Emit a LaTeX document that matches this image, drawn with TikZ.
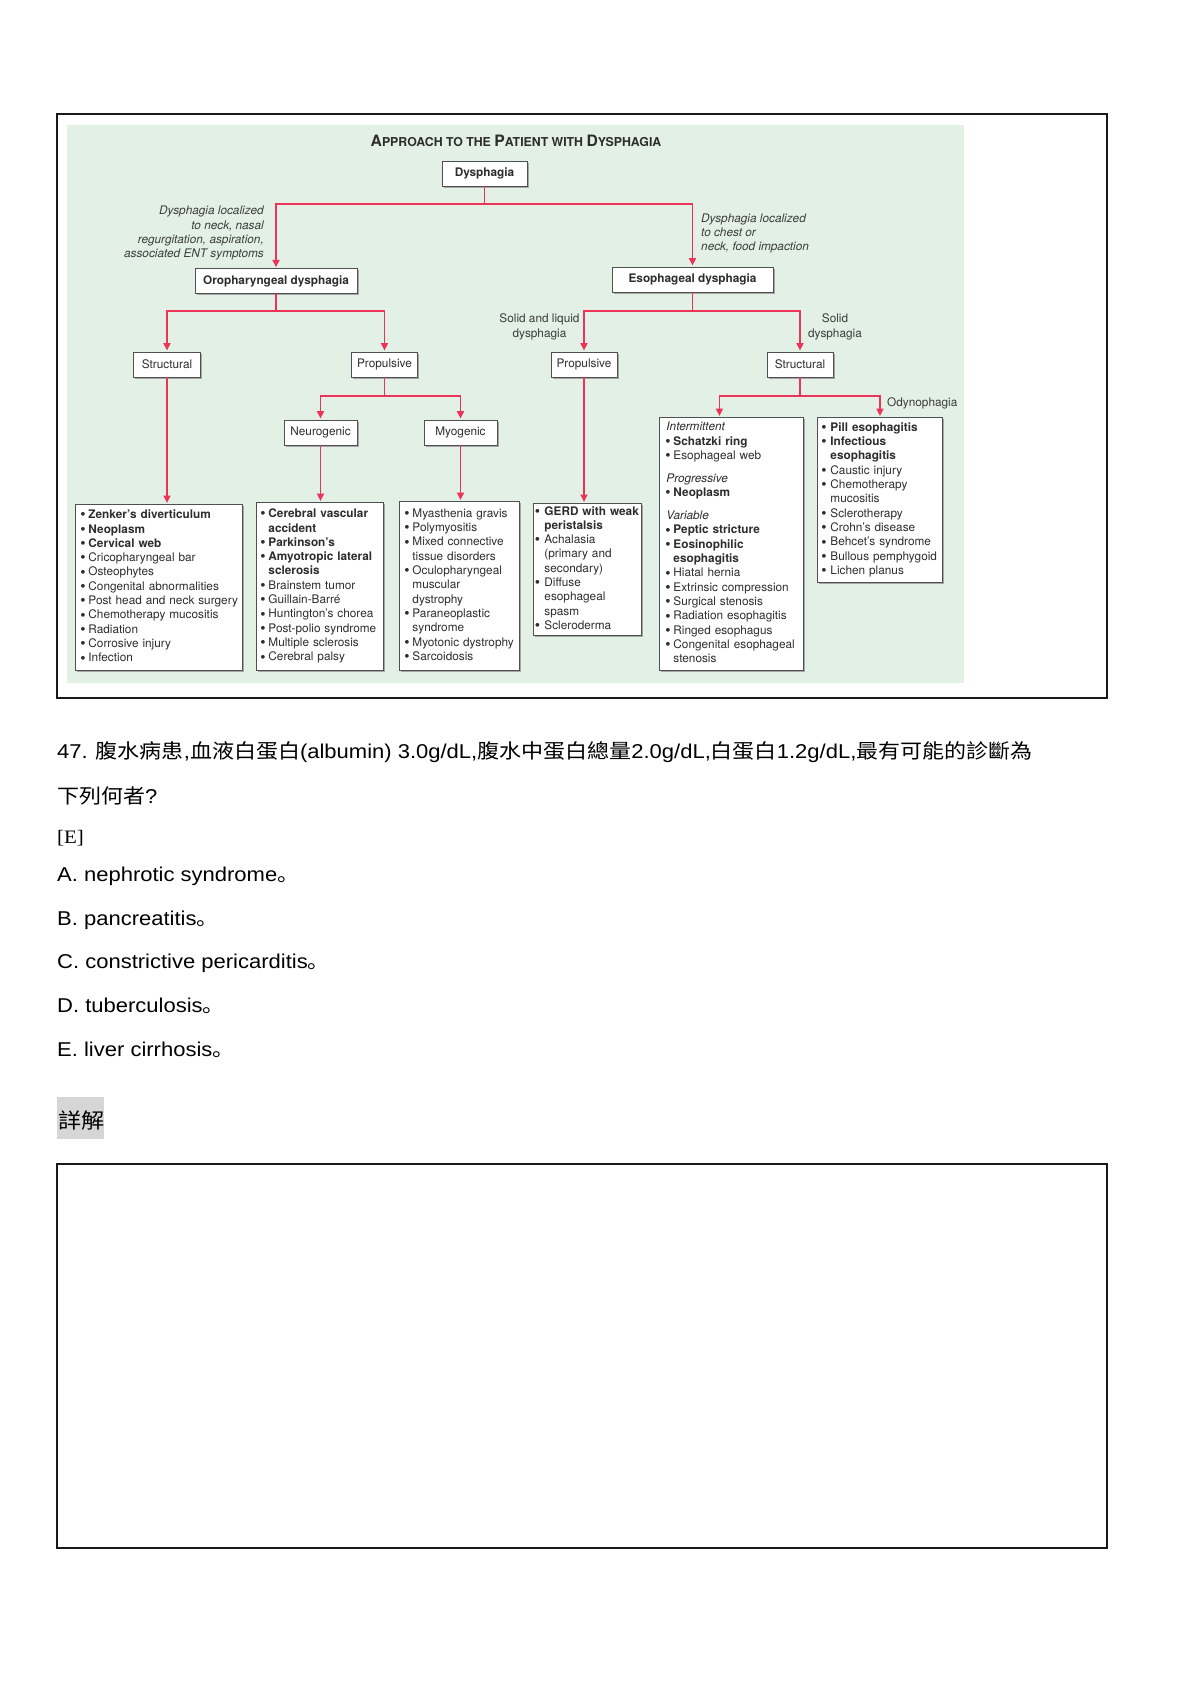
\documentclass[tikz,border=0pt]{standalone}
\usepackage{fontspec}
\setmainfont{TeX Gyre Heros}
\newfontfamily\qfont[FakeStretch=1.1]{Liberation Sans}
\newfontfamily\qcjk[FakeStretch=1.1]{Noto Sans CJK TC}
\newfontfamily\qcjkp[FakeStretch=1.1]{Noto Sans CJK SC}
\newfontfamily\qserif[FakeStretch=1.1]{Liberation Serif}
\usetikzlibrary{arrows.meta,shadows}

\definecolor{bggreen}{RGB}{226,240,230}
\definecolor{linkred}{RGB}{236,52,88}
\definecolor{boxdraw}{RGB}{80,80,80}
\definecolor{txtgray}{RGB}{45,45,45}
\definecolor{lblgray}{RGB}{60,60,60}
\definecolor{detbg}{RGB}{214,214,214}

\newlength\bulw
\setlength\bulw{7pt}
\newcommand\Bdot{\hspace*{-1pt}\raisebox{-1.2pt}{\fontsize{15}{14}\selectfont •}}
\newcommand\LI[1]{\mbox{\strut\makebox[\bulw][l]{\Bdot}#1}}
\newcommand\LB[1]{\mbox{\strut\makebox[\bulw][l]{\Bdot}\textbf{#1}}}
\newcommand\LC[1]{\mbox{\strut\hspace*{\bulw}#1}}
\newcommand\LCB[1]{\mbox{\strut\hspace*{\bulw}\textbf{#1}}}
\newcommand\LH[1]{\mbox{\strut\textit{#1}}}
\newcommand\BigC[1]{{\fontsize{15.7}{16}\selectfont #1}}

\tikzset{
  dbox/.style={draw=boxdraw, fill=white, line width=0.9pt, inner sep=0pt,
    text=txtgray, font=\fontsize{11.8}{14.33}\selectfont,
    drop shadow={shadow xshift=1.6pt, shadow yshift=-1.6pt, fill=black!35, opacity=1}},
  lbox/.style={dbox, anchor=north west, align=left},
  bullw/.code={\setlength{\bulw}{#1}},
  conn/.style={draw=linkred, line width=1.7pt},
  arr/.style={conn, -{Triangle[length=7.5pt,width=7pt]}, shorten >=1pt},
  lbl/.style={inner sep=0pt, text=lblgray, font=\fontsize{11.8}{14.33}\selectfont},
  qtxt/.style={inner sep=0pt, anchor=base west, text=black, font=\qfont\fontsize{20}{24}\selectfont},
}

\begin{document}
\begin{tikzpicture}[x=1pt,y=-1pt]
\useasboundingbox (0,0) rectangle (1190,1684);
\fill[white] (0,0) rectangle (1190,1684);

% frame and green panel
\draw[line width=2pt, black!90] (57,114) rectangle (1107,698);
\fill[bggreen] (67,125) rectangle (964,683);

% title
\node[inner sep=0pt, anchor=base, text=txtgray] (title) at (516,146.5)
  {\bfseries\fontsize{12.3}{14}\selectfont \BigC{A}PPROACH TO THE \BigC{P}ATIENT WITH \BigC{D}YSPHAGIA};

% small boxes
\node[dbox, minimum width=85pt, minimum height=25pt] (dys) at (484.5,173.5) {\textbf{Dysphagia}};
\node[dbox, minimum width=162pt, minimum height=24.5pt] (oro) at (276,281) {\textbf{Oropharyngeal dysphagia}};
\node[dbox, minimum width=161pt, minimum height=25pt] (eso) at (692.5,279.5) {\textbf{Esophageal dysphagia}};
\node[dbox, minimum width=66.5pt, minimum height=25pt] (sL) at (167,364.5) {Structural};
\node[dbox, minimum width=66pt, minimum height=25pt] (pL) at (384.5,364.5) {Propulsive};
\node[dbox, minimum width=73pt, minimum height=25pt] (nG) at (320.5,432.5) {Neurogenic};
\node[dbox, minimum width=73pt, minimum height=25pt] (mG) at (460.5,432.5) {Myogenic};
\node[dbox, minimum width=66pt, minimum height=25pt] (pR) at (584,364.5) {Propulsive};
\node[dbox, minimum width=66pt, minimum height=25pt] (sR) at (800,364.5) {Structural};

% list boxes
\node[lbox, minimum width=167pt, minimum height=166pt, text width=155pt, bullw=7pt] (b1) at (75,504)
 {\LB{Zenker’s diverticulum}\\ \LB{Neoplasm}\\ \LB{Cervical web}\\ \LI{Cricopharyngeal bar}\\
  \LI{Osteophytes}\\ \LI{Congenital abnormalities}\\ \LI{Post head and neck surgery}\\
  \LI{Chemotherapy mucositis}\\ \LI{Radiation}\\ \LI{Corrosive injury}\\ \LI{Infection}};
\node[lbox, minimum width=127pt, minimum height=168pt, text width=117pt, bullw=7pt] (b2) at (256,502)
 {\LB{Cerebral vascular}\\ \LCB{accident}\\ \LB{Parkinson’s}\\ \LB{Amyotropic lateral}\\
  \LCB{sclerosis}\\ \LI{Brainstem tumor}\\ \LI{Guillain-Barré}\\ \LI{Huntington’s chorea}\\
  \LI{Post-polio syndrome}\\ \LI{Multiple sclerosis}\\ \LI{Cerebral palsy}};
\node[lbox, minimum width=120pt, minimum height=169pt, text width=108pt, bullw=7pt] (b3) at (399,501)
 {\LI{Myasthenia gravis}\\ \LI{Polymyositis}\\ \LI{Mixed connective}\\ \LC{tissue disorders}\\
  \LI{Oculopharyngeal}\\ \LC{muscular}\\ \LC{dystrophy}\\ \LI{Paraneoplastic}\\
  \LC{syndrome}\\ \LI{Myotonic dystrophy}\\ \LI{Sarcoidosis}};
\node[lbox, minimum width=108pt, minimum height=132pt, text width=103pt, bullw=8.5pt] (b4) at (533,503)
 {\LB{GERD with weak}\\ \LCB{peristalsis}\\ \LI{Achalasia}\\ \LC{(primary and}\\
  \LC{secondary)}\\ \LI{Diffuse}\\ \LC{esophageal}\\ \LC{spasm}\\ \LI{Scleroderma}};
\node[lbox, minimum width=144pt, minimum height=253pt, text width=130pt, bullw=7pt] (b5) at (659,417)
 {\LH{Intermittent}\\ \LB{Schatzki ring}\\ \LI{Esophageal web}\\[8.6pt]
  \LH{Progressive}\\ \LB{Neoplasm}\\[8.6pt]
  \LH{Variable}\\ \LB{Peptic stricture}\\ \LB{Eosinophilic}\\ \LCB{esophagitis}\\
  \LI{Hiatal hernia}\\ \LI{Extrinsic compression}\\ \LI{Surgical stenosis}\\
  \LI{Radiation esophagitis}\\ \LI{Ringed esophagus}\\ \LI{Congenital esophageal}\\ \LC{stenosis}};
\node[lbox, minimum width=125pt, minimum height=165pt, text width=115pt, bullw=8pt] (b6) at (817,417)
 {\LB{Pill esophagitis}\\ \LB{Infectious}\\ \LCB{esophagitis}\\ \LI{Caustic injury}\\
  \LI{Chemotherapy}\\ \LC{mucositis}\\ \LI{Sclerotherapy}\\ \LI{Crohn’s disease}\\
  \LI{Behcet’s syndrome}\\ \LI{Bullous pemphygoid}\\ \LI{Lichen planus}};

% connectors
\coordinate (j1) at (484.5,204);
\draw[conn] (dys.south) -- (j1);
\draw[arr] (j1) -| (oro.north);
\draw[arr] (j1) -| (eso.north);

\coordinate (j2) at (276,311);
\draw[conn] (oro.south) -- (j2);
\draw[arr] (j2) -| (sL.north);
\draw[arr] (j2) -| (pL.north);

\coordinate (j3) at (692.5,311);
\draw[conn] (eso.south) -- (j3);
\draw[arr] (j3) -| (pR.north);
\draw[arr] (j3) -| (sR.north);

\coordinate (j4) at (384.5,396);
\draw[conn] (pL.south) -- (j4);
\draw[arr] (j4) -| (nG.north);
\draw[arr] (j4) -| (mG.north);

\coordinate (j5) at (800,396);
\draw[conn] (sR.south) -- (j5);
\draw[arr] (j5) -| ([xshift=-12pt]b5.north);
\draw[arr] (j5) -| (b6.north);

\draw[arr] (sL.south) -- (sL.south |- b1.north);
\draw[arr] (nG.south) -- (nG.south |- b2.north);
\draw[arr] (mG.south) -- (mG.south |- b3.north);
\draw[arr] (pR.south) -- (pR.south |- b4.north);

% edge labels
\node[lbl, anchor=east, align=right, font=\fontsize{11.8}{14.33}\selectfont\itshape] (lab1) at (264,233.5)
  {\strut Dysphagia localized\\ \strut to neck, nasal\\ \strut regurgitation, aspiration,\\ \strut associated ENT symptoms};
\node[lbl, anchor=west, align=left, font=\fontsize{11.8}{14.33}\selectfont\itshape] (lab2) at (701,233.7)
  {\strut Dysphagia localized\\ \strut to chest or\\ \strut neck, food impaction};
\node[lbl, align=center] (lab3) at (539.5,327) {\strut Solid and liquid\\ \strut dysphagia};
\node[lbl, align=center] (lab4) at (835,327) {\strut Solid\\ \strut dysphagia};
\node[lbl, anchor=west] (lab5) at (887,404) {\strut Odynophagia};

% question
\node[qtxt] (q1) at (57,758) {47. {\qcjk 腹水病患},{\qcjk 血液白蛋白}(albumin) 3.0g/dL,{\qcjk 腹水中蛋白總量}2.0g/dL,{\qcjk 白蛋白}1.2g/dL,{\qcjk 最有可能的診斷為}};
\node[qtxt] (q2) at (57,803) {{\qcjk 下列何者}?};
\node[qtxt, font=\qserif\fontsize{19}{22}\selectfont] (ans) at (57,843) {[E]};
\node[qtxt] (oA) at (57,881) {A. nephrotic syndrome{\qcjkp 。}};
\node[qtxt] (oB) at (57,925) {B. pancreatitis{\qcjkp 。}};
\node[qtxt] (oC) at (57,968) {C. constrictive pericarditis{\qcjkp 。}};
\node[qtxt] (oD) at (57,1012) {D. tuberculosis{\qcjkp 。}};
\node[qtxt] (oE) at (57,1056) {E. liver cirrhosis{\qcjkp 。}};

% detail label and empty answer box
\fill[detbg] (57,1097) rectangle (104,1139);
\node[qtxt, font=\qcjk\fontsize{21}{24}\selectfont] (det) at (58,1128) {詳解};
\draw[line width=2pt, black!90] (57,1164) rectangle (1107,1548);
\end{tikzpicture}
\end{document}
